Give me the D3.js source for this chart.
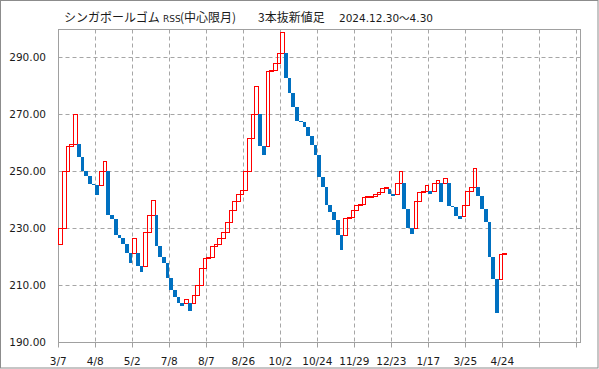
<!DOCTYPE html>
<html><head><meta charset="utf-8">
<script src="https://cdn.jsdelivr.net/npm/d3@7"></script>
<style>html,body{margin:0;padding:0;background:#fff;}svg{display:block;}</style>
</head><body>
<script>
// ---- data ----
const firstOpen = 224.6;
const closes = [230.0, 250.0, 258.8, 259.6, 270.0, 254.9, 250.0, 248.5, 245.6, 245.2,
  241.7, 250.0, 253.8, 234.7, 233.4, 227.7, 226.8, 224.6, 221.4, 217.7,
  226.8, 216.8, 214.6, 228.9, 234.8, 239.9, 223.8, 220.1, 218.0, 212.7,
  208.4, 206.0, 204.0, 202.9, 205.4, 201.1, 206.6, 210.0, 216.1, 219.6,
  219.8, 224.0, 224.5, 226.6, 228.9, 232.4, 236.5, 239.7, 242.1, 243.3,
  250.0, 261.7, 270.3, 279.8, 258.8, 255.8, 285.1, 285.7, 288.0, 291.5,
  298.9, 282.7, 277.5, 272.5, 267.8, 267.3, 265.7, 262.3, 259.3, 255.6,
  248.2, 244.7, 238.1, 235.9, 233.0, 227.8, 222.5, 233.6, 234.0, 236.5,
  238.1, 238.5, 241.0, 241.2, 241.4, 242.1, 242.9, 244.0, 244.4, 241.9,
  241.3, 245.8, 250.0, 236.7, 230.0, 227.9, 239.7, 242.6, 243.1, 245.1,
  241.9, 245.8, 247.0, 239.1, 247.8, 237.9, 237.6, 234.4, 233.2, 238.1,
  243.0, 244.4, 251.1, 241.3, 236.9, 232.1, 219.8, 212.1, 200.2, 221.0,
  221.2];
const xTickLabels = ["3/7","4/8","5/2","7/8","8/7","8/26","10/2","10/24","11/29","12/23","1/17","3/25","4/24"];
const yTicks = [190, 210, 230, 250, 270, 290];
const barsPerTick = 10;
const slotCount = 141;

// line-break bars: open is the far edge of the previous line
const bars = [];
closes.forEach((c, i) => {
  let o;
  if (i === 0) o = firstOpen;
  else {
    const p = bars[i - 1];
    const hi = Math.max(p.o, p.c), lo = Math.min(p.o, p.c);
    o = c > hi ? hi : lo;
  }
  bars.push({i, o, c, up: c > o});
});

const W = 599, H = 369;
const svg = d3.select("body").append("svg").attr("width", W).attr("height", H);
svg.append("rect").attr("x", 0.5).attr("y", 0.5).attr("width", W - 1.5).attr("height", H - 1.5)
  .attr("fill", "#fff").attr("stroke", "#8c8c8c");

const x = d3.scaleLinear().domain([0, slotCount]).range([58.3, 580.1]);
const y = d3.scaleLinear().domain([190, 300]).range([342.4, 28.9]);
const px = v => Math.round(v) + 0.5;

const L = px(x(0)), R = px(x(slotCount)) , T = px(y(300)), B = px(y(190));
const grid = "#a6a6a6";

// horizontal gridlines
svg.append("g").selectAll("line").data(yTicks.filter(v => v > 190)).join("line")
  .attr("x1", L).attr("x2", R).attr("y1", d => px(y(d))).attr("y2", d => px(y(d)))
  .attr("stroke", grid).attr("stroke-dasharray", "4,3");
// vertical gridlines
const vt = d3.range(barsPerTick, slotCount, barsPerTick);
svg.append("g").selectAll("line").data(vt).join("line")
  .attr("x1", d => px(x(d))).attr("x2", d => px(x(d))).attr("y1", T).attr("y2", B)
  .attr("stroke", grid).attr("stroke-dasharray", "4,3");

// frame
svg.append("rect").attr("x", L).attr("y", T).attr("width", R - L).attr("height", B - T)
  .attr("fill", "none").attr("stroke", "#a0a0a0");

// x ticks
svg.append("g").selectAll("line").data(d3.range(0, slotCount, barsPerTick)).join("line")
  .attr("x1", d => px(x(d))).attr("x2", d => px(x(d))).attr("y1", B).attr("y2", B + 5)
  .attr("stroke", "#a0a0a0");
svg.append("g").selectAll("text").data(xTickLabels).join("text")
  .attr("x", (d, k) => x(k * barsPerTick)).attr("y", 365)
  .attr("text-anchor", "middle").attr("font-family", "DejaVu Sans").attr("font-size", "10.5px")
  .attr("fill", "#1a1a1a").text(d => d);

// y labels
svg.append("g").selectAll("text").data(yTicks).join("text")
  .attr("x", 46).attr("y", d => y(d) + 4)
  .attr("text-anchor", "end").attr("font-family", "DejaVu Sans").attr("font-size", "10.5px")
  .attr("fill", "#1a1a1a").text(d => d.toFixed(2));

// bars
const g = svg.append("g");
bars.forEach(b => {
  const x0 = x(b.i), x1 = x(b.i + 1);
  const top = y(Math.max(b.o, b.c)), bot = y(Math.min(b.o, b.c));
  if (b.up) {
    g.append("rect").attr("x", px(x0)).attr("y", px(top))
      .attr("width", Math.max(1, Math.round(x1) - Math.round(x0)))
      .attr("height", Math.max(1, Math.round(bot) - Math.round(top)))
      .attr("fill", "none").attr("stroke", "#ff0000").attr("stroke-width", 1);
  } else {
    g.append("rect").attr("x", x0).attr("y", top)
      .attr("width", x1 - x0).attr("height", Math.max(1, bot - top))
      .attr("fill", "#0070c0").attr("shape-rendering", "crispEdges");
  }
});

// title
const t = svg.append("text").attr("y", 21.5).attr("fill", "#1a1a1a");
t.append("tspan").attr("x", 64).attr("font-family", "Noto Sans CJK JP").attr("font-size", "12px").text("シンガポールゴム");
t.append("tspan").attr("x", 163).attr("font-family", "DejaVu Sans").attr("font-size", "9px").text("RSS");
t.append("tspan").attr("x", 180).attr("font-family", "Noto Sans CJK JP").attr("font-size", "12px").text("(中心限月)");
t.append("tspan").attr("x", 258).attr("font-family", "Noto Sans CJK JP").attr("font-size", "12px").text("3本抜新値足");
t.append("tspan").attr("x", 339).attr("font-family", "DejaVu Sans, Noto Sans CJK JP").attr("font-size", "10.5px").text("2024.12.30～4.30");
</script>
</body></html>
